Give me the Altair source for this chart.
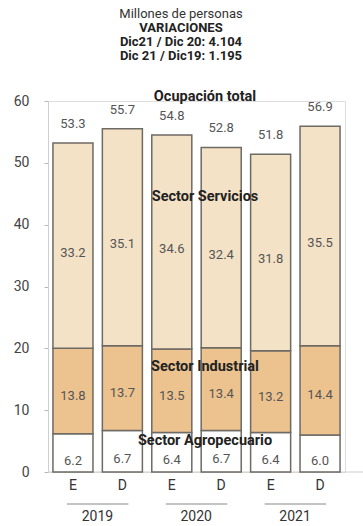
import altair as alt
import pandas as pd

periods = ["E 2019", "D 2019", "E 2020", "D 2020", "E 2021", "D 2021"]
short = ["E", "D", "E", "D", "E", "D"]
years = ["2019", "2019", "2020", "2020", "2021", "2021"]
agro = [6.2, 6.7, 6.4, 6.7, 6.4, 6.0]
industrial = [13.8, 13.7, 13.5, 13.4, 13.2, 14.4]
services = [33.2, 35.1, 34.6, 32.4, 31.8, 35.5]
total = [53.3, 55.7, 54.8, 52.8, 51.8, 56.9]

sector_names = ["Sector Agropecuario", "Sector Industrial", "Sector Servicios"]
sector_colors = ["#ffffff", "#ecc28f", "#f4e2c6"]
title_lines = ["Millones de personas", "VARIACIONES", "Dic21 / Dic 20: 4.104", "Dic 21 / Dic19: 1.195"]
title_bold = [False, True, True, True]
section_labels = ["Ocupación total", "Sector Servicios", "Sector Industrial", "Sector Agropecuario"]
section_y = [60.7, 44.5, 17.0, 5.0]

FONT = "Roboto, Liberation Sans, sans-serif"

rows = []
for i, p in enumerate(periods):
    base = 0.0
    for s, v in zip(sector_names, [agro[i], industrial[i], services[i]]):
        rows.append({"period": p, "sector": s, "y0": base, "y1": base + v,
                     "mid": base + v / 2, "value": v, "label": f"{v:.1f}"})
        base += v
seg = pd.DataFrame(rows)

tot = pd.DataFrame({"period": periods, "total": total,
                    "top": [a + b + c for a, b, c in zip(agro, industrial, services)],
                    "label": [f"{t:.1f}" for t in total]})

band = alt.Scale(domain=periods, paddingInner=0.19, paddingOuter=0.1)
xs = alt.X("period:N", sort=periods, axis=None, scale=band)
yscale = alt.Scale(domain=[0, 60], nice=False)

bars = alt.Chart(seg).mark_bar(stroke="#6e6a64", strokeWidth=1.5).encode(
    x=xs,
    y=alt.Y("y0:Q", scale=yscale,
            axis=alt.Axis(values=[0, 10, 20, 30, 40, 50, 60], title=None, grid=False,
                          domainColor="#cfcfcf", tickColor="#b8b8b8", tickSize=4,
                          labelFont=FONT, labelFontSize=14, labelColor="#444444",
                          labelPadding=15, domain=True)),
    y2="y1:Q",
    fill=alt.Fill("sector:N", scale=alt.Scale(domain=sector_names, range=sector_colors), legend=None),
)

baseline = alt.Chart(pd.DataFrame({"v": [0]})).mark_rule(color="#cfcfcf", strokeWidth=1).encode(
    y=alt.Y("v:Q", scale=yscale), x=alt.value(0), x2=alt.value(315))

seg_offsets = {"Sector Agropecuario": 8, "Sector Industrial": 5, "Sector Servicios": 7}
seg_layers = []
for s in sector_names:
    seg_layers.append(
        alt.Chart(seg).transform_filter(alt.datum.sector == s).mark_text(
            font=FONT, fontSize=13, color="#555555", dy=seg_offsets[s]).encode(
            x=xs, y=alt.Y("mid:Q", scale=yscale), text="label:N"))

tot_text = alt.Chart(tot).mark_text(font=FONT, fontSize=13, color="#555555", dy=-19).encode(
    x=xs, y=alt.Y("top:Q", scale=yscale), text="label:N")

sec_df = pd.DataFrame({"label": section_labels, "y": section_y})
sec_text = alt.Chart(sec_df).mark_text(font=FONT, fontSize=14.5, fontWeight="bold", color="#222222").encode(
    x=alt.value(157), y=alt.Y("y:Q", scale=yscale), text="label:N")

title_layers = []
for i, (line, b) in enumerate(zip(title_lines, title_bold)):
    title_layers.append(
        alt.Chart(pd.DataFrame({"t": [line]})).mark_text(
            font=FONT, fontSize=13, fontWeight="bold" if b else "normal",
            color="#222222" if b else "#333333").encode(
            x=alt.value(133), y=alt.value(-87 + i * 13.9), text="t:N"))

xl = pd.DataFrame({"period": periods, "s": short, "year": years})
x_labels = alt.Chart(xl).mark_text(font=FONT, fontSize=14, color="#333333").encode(
    x=xs, y=alt.value(385), text="s:N")

yl = pd.DataFrame({"year": ["2019", "2020", "2021"],
                   "a": ["E 2019", "E 2020", "E 2021"], "b": ["D 2019", "D 2020", "D 2021"]})
year_rule = alt.Chart(yl).mark_rule(color="#888888", strokeWidth=1).encode(
    x=alt.X("a:N", axis=None, scale=band, bandPosition=0.35),
    x2=alt.X2("b:N", bandPosition=0.65), y=alt.value(403))
year_text = alt.Chart(yl).mark_text(font=FONT, fontSize=14, color="#333333", dx=-25).encode(
    x=alt.X("b:N", axis=None, scale=band), y=alt.value(416), text="year:N")

chart = alt.layer(baseline, bars, *seg_layers, tot_text, sec_text, *title_layers,
                  x_labels, year_rule, year_text).properties(
    width=297, height=371,
    autosize=alt.AutoSizeParams(type="none"),
    padding={"left": 48, "top": 101, "right": 18, "bottom": 54},
).configure_view(strokeWidth=0).configure(background="white")

chart.save("out.html", embed_options={"renderer": "svg", "actions": False})
